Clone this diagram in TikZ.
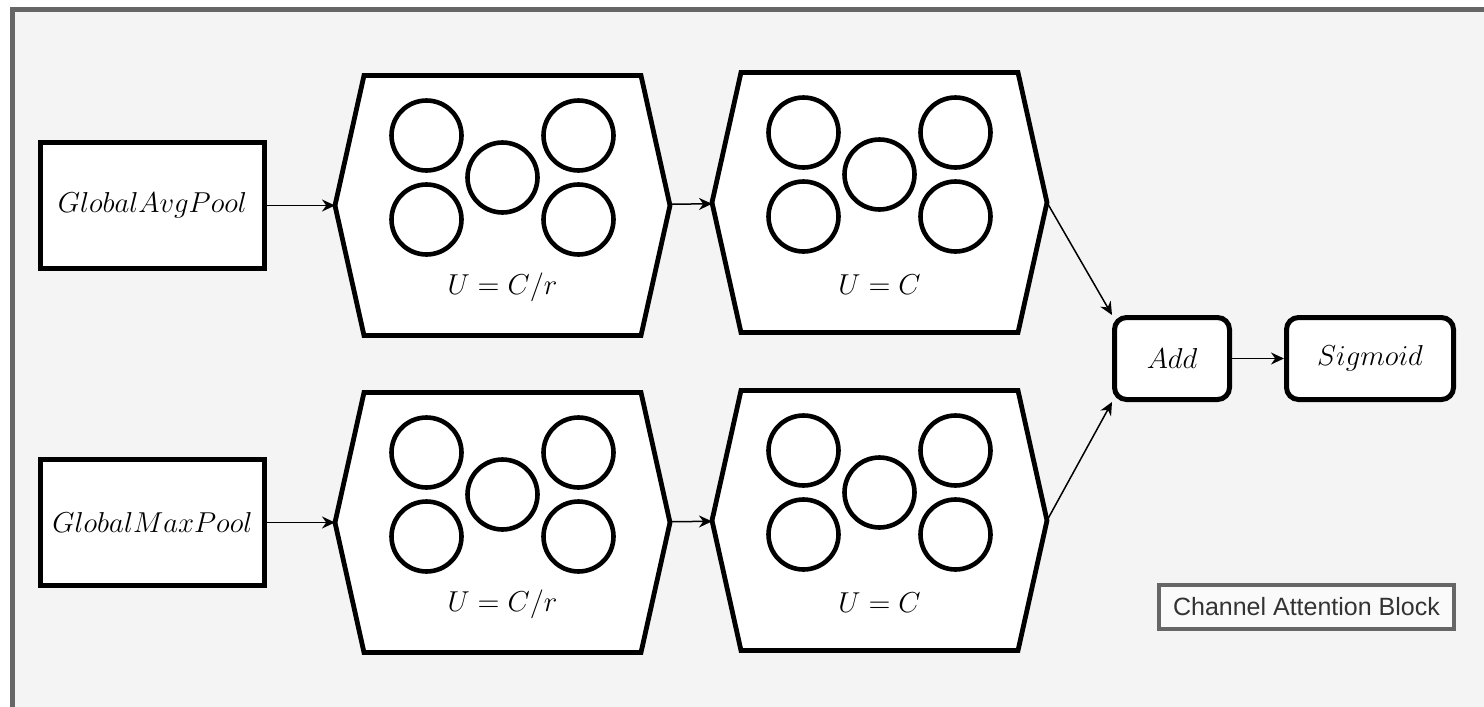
\documentclass[tikz,border=0pt]{standalone}
\usepackage{fontspec}
\newfontfamily\tagfont{Liberation Sans}
\usetikzlibrary{arrows.meta,positioning,calc}
\definecolor{bgcol}{HTML}{F4F4F4}
\definecolor{framecol}{HTML}{666666}
\definecolor{tagcol}{HTML}{333333}

\begin{document}
\begin{tikzpicture}[>={Stealth[length=6.5pt,width=6pt]},
    box/.style={draw, fill=white, line width=2.5pt, minimum width=112pt, minimum height=63pt, inner sep=0pt, font=\fontsize{14.4}{17}\selectfont},
    op/.style={box, rounded corners=6pt, minimum height=41pt},
    layer/.style={minimum width=167.5pt, minimum height=130pt, inner sep=0pt, outer sep=0pt},
    hexline/.style={draw, fill=white, line width=2.4pt, line join=miter},
    unit/.style={draw, line width=2.3pt},
    flow/.style={->, line width=0.75pt}]
\useasboundingbox (0,0) rectangle (742pt,-353.5pt);
\clip (0,0) rectangle (742pt,-353.5pt);
\draw[framecol, fill=bgcol, line width=2.5pt] (6.25pt,-4.75pt) rectangle (760pt,-370pt);

\node[box] (avg) at (76.25pt,-102.75pt) {$GlobalAvgPool$};
\node[layer, right=34pt of avg] (l1) {};
\node[layer, right=21pt of l1, yshift=1.5pt] (l2) {};
\node[layer, below=28.5pt of l1] (l3) {};
\node[layer, right=21pt of l3, yshift=1pt] (l4) {};
\node[box, left=34pt of l3] (max) {$GlobalMaxPool$};

\coordinate (mid) at ($(l2.east)!.5!(l4.east)+(0,1.5pt)$);
\node[op, minimum width=57.5pt, right=32.5pt of mid] (add) {$Add$};
\node[op, minimum width=83.5pt, right=26pt of add] (sig) {$Sigmoid$};

% dense layers: hexagon with five units
\foreach \l/\u in {l1/{C/r}, l2/C, l3/{C/r}, l4/C} {
  \draw[hexline] ([xshift=14.5pt]\l.north west) -- ([xshift=-14.5pt]\l.north east) -- (\l.east)
    -- ([xshift=-14.5pt]\l.south east) -- ([xshift=14.5pt]\l.south west) -- (\l.west) -- cycle;
  \foreach \dx/\dy in {-38/35, -38/-7, 0/14, 38/35, 38/-7}
    \draw[unit] ([shift={(\dx pt,\dy pt)}]\l.center) circle (17.5pt);
  \node[font=\fontsize{14.4}{17}\selectfont] (\l-u) at ([yshift=-41pt]\l.center) {$U=\u$};
}

\draw[flow] (avg) -- (l1);
\draw[flow] (l1) -- (l2);
\draw[flow] (max) -- (l3);
\draw[flow] (l3) -- (l4);
\draw[flow] (l2.east) -- (add.north west);
\draw[flow] (l4.east) -- (add.south west);
\draw[flow] (add) -- (sig);

\node[draw=framecol, fill=white!50!bgcol, line width=2pt, text=tagcol, inner sep=0pt,
      minimum width=147.5pt, minimum height=22pt, font=\tagfont\fontsize{12.5}{14}\selectfont]
      (tag) at (653.25pt,-303.5pt) {Channel Attention Block};
\end{tikzpicture}
\end{document}
